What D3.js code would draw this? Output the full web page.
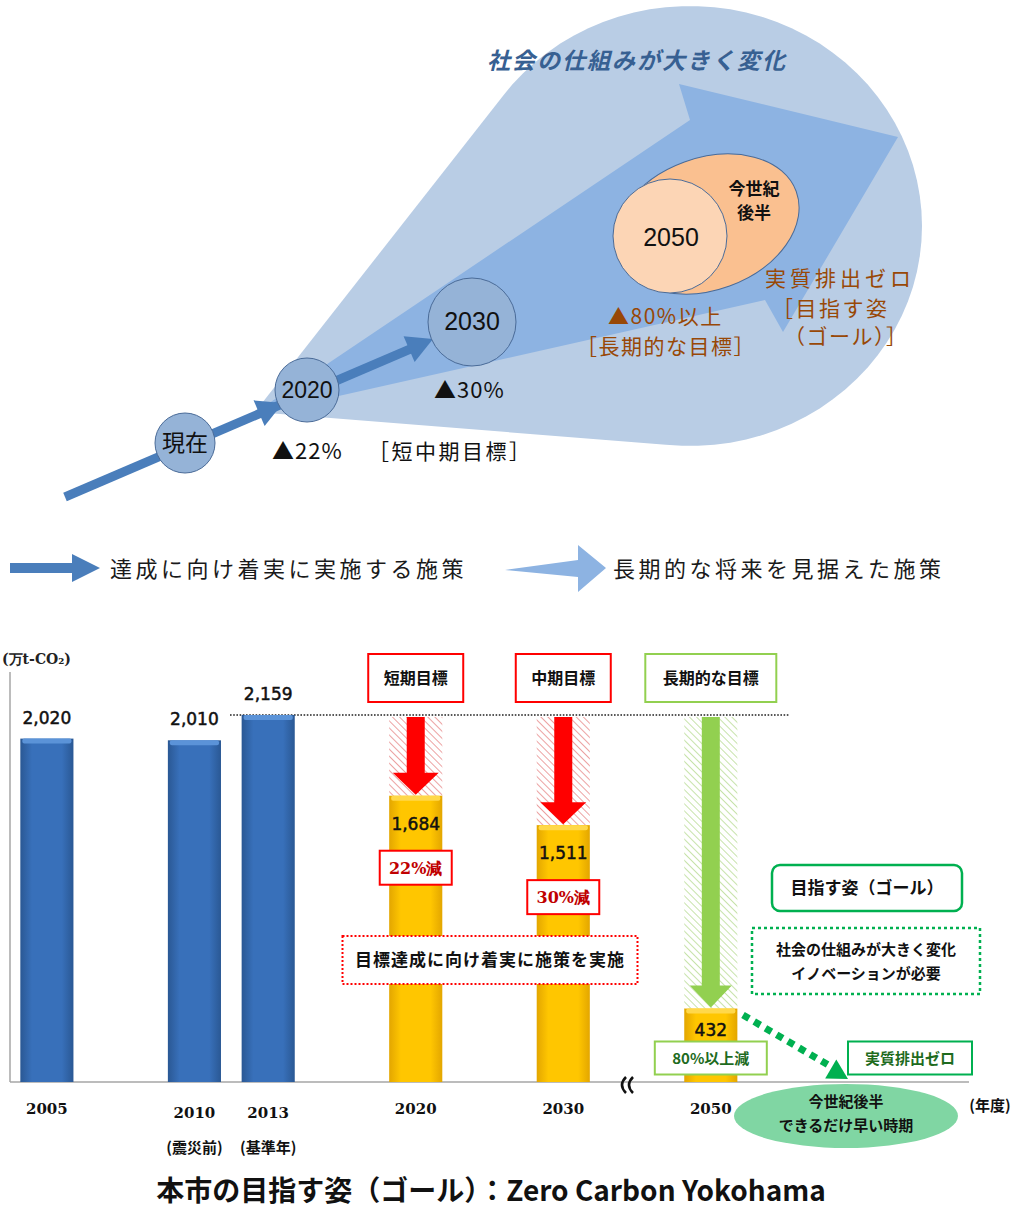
<!DOCTYPE html>
<html>
<head>
<meta charset="utf-8">
<script src="https://cdn.jsdelivr.net/npm/d3@7"></script>
<style>
  body { margin: 0; background: #fff; }
  svg { display: block; }
</style>
</head>
<body>
<svg id="svg" width="1020" height="1211"></svg>
<script>
//emissions chart data
const years = ["2005", "2010", "2013", "2020", "2030", "2050"];
const emissions = [2020, 2010, 2159, 1684, 1511, 432];
const baseYear = "2013";
const targetYears = ["2020", "2030", "2050"];
const targetNames = ["短期目標", "中期目標", "長期的な目標"];
const cutLabels = ["22%減", "30%減", "80%以上減"];
const noteYears = ["2010", "2013"];
const notes = ["(震災前)", "(基準年)"];

//roadmap diagram labels
const milestones = ["現在", "2020", "2030"];
const milestoneCuts = ["", "▲22%", "▲30%"];
const legendLabels = ["達成に向け着実に実施する施策", "長期的な将来を見据えた施策"];

const JP = "'Noto Sans CJK JP', sans-serif";
const svg = d3.select("#svg");

//---------- defs ----------
const defs = svg.append("defs");
function hGrad(id, edge, mid) {
    const g = defs.append("linearGradient").attr("id", id)
            .attr("x1", "0").attr("x2", "1").attr("y1", "0").attr("y2", "0");
    g.append("stop").attr("offset", "0%").attr("stop-color", edge);
    g.append("stop").attr("offset", "22%").attr("stop-color", mid);
    g.append("stop").attr("offset", "78%").attr("stop-color", mid);
    g.append("stop").attr("offset", "100%").attr("stop-color", edge);
}
hGrad("gBlue", "#2a5894", "#3870ba");
hGrad("gYellow", "#e3a600", "#ffc600");

function hatch(id, color) {
    defs.append("pattern").attr("id", id)
            .attr("width", 5).attr("height", 5)
            .attr("patternUnits", "userSpaceOnUse")
            .attr("patternTransform", "rotate(-45)")
            .append("line")
            .attr("x1", 0).attr("y1", 0).attr("x2", 0).attr("y2", 5)
            .attr("stroke", color).attr("stroke-width", 1.6);
}
hatch("hRed", "#e88a8a");
hatch("hGreen", "#b9dc94");

//---------- top diagram ----------
//light blue fan: hull of a round head and an apex
var headPts = d3.range(0, 360, 4).map(a => {
    var t = a * Math.PI / 180;
    return [690 + 232 * Math.cos(t), 226 + 220 * Math.sin(t)];
});
headPts.push([255, 412]);
var hull = d3.polygonHull(headPts);
svg.append("path")
        .attr("d", "M" + hull.join("L") + "Z")
        .attr("fill", "#b9cde5");

//medium blue big arrow
var bigArrow = [[250, 416], [690, 120], [679, 84], [898, 137], [783, 332], [765, 300]];
svg.append("polygon")
        .attr("points", bigArrow.map(p => p.join(",")).join(" "))
        .attr("fill", "#8db3e2");

svg.append("text")
        .attr("x", 487).attr("y", 69)
        .attr("font-family", JP).attr("font-size", 23)
        .attr("font-weight", "bold").attr("font-style", "italic")
        .attr("letter-spacing", 2)
        .attr("fill", "#376092")
        .text("社会の仕組みが大きく変化");

//thin blue progress arrow
const arrowBlue = "#4a7ebb";
svg.append("line")
        .attr("x1", 65).attr("y1", 497).attr("x2", 415).attr("y2", 347)
        .attr("stroke", arrowBlue).attr("stroke-width", 9);
function arrowHead(tipX, tipY, ang, len, wid, color) {
    var bx = tipX - len * Math.cos(ang), by = tipY - len * Math.sin(ang);
    var nx = -Math.sin(ang) * wid / 2, ny = Math.cos(ang) * wid / 2;
    svg.append("polygon")
            .attr("points", [[tipX, tipY], [bx + nx, by + ny], [bx - nx, by - ny]].map(p => p.join(",")).join(" "))
            .attr("fill", color);
}
var ang = Math.atan2(347 - 497, 415 - 65);
arrowHead(283, 403, ang, 26, 28, arrowBlue);
arrowHead(433, 339, ang, 26, 28, arrowBlue);

//milestone circles
var circ = [[185, 443, 30], [307, 390, 32], [472, 322, 44]];
svg.selectAll("circle.ms")
        .data(milestones)
        .enter()
        .append("circle")
        .attr("class", "ms")
        .attr("cx", (d, i) => circ[i][0])
        .attr("cy", (d, i) => circ[i][1])
        .attr("r", (d, i) => circ[i][2])
        .attr("fill", "#95b3d7")
        .attr("stroke", "#4a6b98").attr("stroke-width", 1);
svg.selectAll("text.ms")
        .data(milestones)
        .enter()
        .append("text")
        .attr("class", "ms")
        .attr("x", (d, i) => circ[i][0])
        .attr("y", (d, i) => circ[i][1] + 8)
        .attr("text-anchor", "middle")
        .attr("font-family", (d, i) => i === 0 ? JP : "'Liberation Sans Narrow', 'Liberation Sans', sans-serif")
        .attr("font-size", (d, i) => i === 2 ? 25 : 23)
        .attr("fill", "#111")
        .text(d => d);

//2050 orange shapes
svg.append("ellipse")
        .attr("cx", 0).attr("cy", 0).attr("rx", 95).attr("ry", 66)
        .attr("transform", "translate(707,224) rotate(-20)")
        .attr("fill", "#fac090").attr("stroke", "#4a6b98").attr("stroke-width", 1);
svg.append("circle")
        .attr("cx", 670).attr("cy", 236).attr("r", 57)
        .attr("fill", "#fcd5b5").attr("stroke", "#4a6b98").attr("stroke-width", 1);
svg.append("text")
        .attr("x", 671).attr("y", 246).attr("text-anchor", "middle")
        .attr("font-family", "'Liberation Sans Narrow', 'Liberation Sans', sans-serif")
        .attr("font-size", 25).attr("fill", "#111").text("2050");
svg.append("text").attr("x", 754).attr("y", 195).attr("text-anchor", "middle")
        .attr("font-family", JP).attr("font-size", 17).attr("font-weight", "bold")
        .attr("fill", "#111").text("今世紀");
svg.append("text").attr("x", 754).attr("y", 219).attr("text-anchor", "middle")
        .attr("font-family", JP).attr("font-size", 17).attr("font-weight", "bold")
        .attr("fill", "#111").text("後半");

//diagram captions
function caption(x, y, str, color, size, spacing) {
    svg.append("text")
            .attr("x", x).attr("y", y)
            .attr("font-family", JP).attr("font-size", size)
            .attr("letter-spacing", spacing)
            .attr("fill", color)
            .text(str);
}
caption(272, 459, milestoneCuts[1], "#111", 22, 1);
caption(434, 398, milestoneCuts[2], "#111", 22, 1);
caption(368, 459, "［短中期目標］", "#111", 21, 2.5);
const brown = "#984807";
caption(608, 324, "▲80%以上", brown, 21, 1.5);
caption(576, 354, "［長期的な目標］", brown, 21, 1.5);
caption(765, 286, "実質排出ゼロ", brown, 21, 4);
caption(772, 316, "［目指す姿", brown, 21, 2.5);
caption(784, 344, "（ゴール）］", brown, 21, 1.5);

//legend
svg.append("polygon")
        .attr("points", "10,563 72,563 72,554 100,568 72,582 72,573 10,573")
        .attr("fill", arrowBlue);
svg.append("polygon")
        .attr("points", "505,570 578,560 578,545 606,568 578,592 578,577")
        .attr("fill", "#8db3e2");
svg.selectAll("text.legend")
        .data(legendLabels)
        .enter()
        .append("text")
        .attr("class", "legend")
        .attr("x", (d, i) => i === 0 ? 110 : 613)
        .attr("y", 577)
        .attr("font-family", JP).attr("font-size", 22)
        .attr("letter-spacing", 3.5)
        .attr("fill", "#1a1a1a")
        .text(d => d);

//---------- emissions chart ----------
const slotOf = {"2005": 0, "2010": 2, "2013": 3, "2020": 5, "2030": 7, "2050": 9};
var scaleX = d3.scaleBand()
        .domain(d3.range(13))
        .range([10, 969])
        .paddingInner(0.28)
        .paddingOuter(0.14);
var scaleY = d3.scaleLinear()
        .domain([0, 2400])
        .range([1082, 674]);
var bw = scaleX.bandwidth();
var bx = y => scaleX(slotOf[y]);
var bc = y => scaleX(slotOf[y]) + bw / 2;

var data = years.map((y, i) => ({year: y, value: emissions[i], target: targetYears.indexOf(y)}));
var baseValue = emissions[years.indexOf(baseYear)];

//axes
svg.append("line")
        .attr("x1", 10).attr("x2", 10).attr("y1", scaleY(2400) - 2).attr("y2", scaleY(0))
        .attr("stroke", "#a6a6a6").attr("stroke-width", 1.5);
svg.append("line")
        .attr("x1", 10).attr("x2", 969).attr("y1", scaleY(0)).attr("y2", scaleY(0))
        .attr("stroke", "#a6a6a6").attr("stroke-width", 1.5);
svg.append("text")
        .attr("x", 2).attr("y", 664)
        .attr("font-family", "'DejaVu Serif', serif").attr("font-size", 14).attr("font-weight", "bold")
        .attr("fill", "#222")
        .text("(万t-CO₂)");

//base year dotted line
svg.append("line")
        .attr("x1", 230).attr("x2", 790)
        .attr("y1", scaleY(baseValue)).attr("y2", scaleY(baseValue))
        .attr("stroke", "#222").attr("stroke-width", 1.6)
        .attr("stroke-dasharray", "1.6 1.6");

var targets = data.filter(d => d.target >= 0);

//hatched reduction band + arrow
svg.selectAll("rect.hatch")
        .data(targets)
        .enter()
        .append("rect")
        .attr("class", "hatch")
        .attr("x", d => bx(d.year))
        .attr("y", scaleY(baseValue) + 2)
        .attr("width", bw)
        .attr("height", d => scaleY(d.value) - scaleY(baseValue) - 2)
        .attr("fill", d => d.target < 2 ? "url(#hRed)" : "url(#hGreen)");
svg.selectAll("polygon.cut")
        .data(targets)
        .enter()
        .append("polygon")
        .attr("class", "cut")
        .attr("points", d => {
            var c = bc(d.year), top = scaleY(baseValue) + 2, tip = scaleY(d.value) - 1;
            var hw = d.target < 2 ? 23 : 21, sw = 9, hl = 22;
            return [[c - sw, top], [c + sw, top], [c + sw, tip - hl], [c + hw, tip - hl], [c, tip],
                [c - hw, tip - hl], [c - sw, tip - hl]].map(p => p.join(",")).join(" ");
        })
        .attr("fill", d => d.target < 2 ? "#ff0000" : "#92d050");

//bars
svg.selectAll("rect.bar")
        .data(data)
        .enter()
        .append("rect")
        .attr("class", "bar")
        .attr("x", d => bx(d.year))
        .attr("y", d => scaleY(d.value))
        .attr("width", bw)
        .attr("height", d => scaleY(0) - scaleY(d.value))
        .attr("fill", d => d.target >= 0 ? "url(#gYellow)" : "url(#gBlue)");
svg.selectAll("rect.bevel")
        .data(data)
        .enter()
        .append("rect")
        .attr("class", "bevel")
        .attr("x", d => bx(d.year) + 2)
        .attr("y", d => scaleY(d.value))
        .attr("width", bw - 4)
        .attr("height", 5)
        .attr("rx", 2)
        .attr("fill", d => d.target >= 0 ? "#ffd84a" : "#5b93d8");

//value labels
svg.selectAll("text.val")
        .data(data)
        .enter()
        .append("text")
        .attr("class", "val")
        .attr("x", d => bc(d.year))
        .attr("y", d => d.target >= 0 ? scaleY(d.value) + (d.target === 2 ? 27 : 34) : scaleY(d.value) - 15)
        .attr("text-anchor", "middle")
        .attr("font-family", "'DejaVu Sans', sans-serif")
        .attr("font-size", 17)
        .attr("fill", "#111")
        .attr("stroke", "#111").attr("stroke-width", 0.5)
        .text(d => d3.format(",")(d.value));

//year labels
svg.selectAll("text.year")
        .data(data)
        .enter()
        .append("text")
        .attr("class", "year")
        .attr("x", d => bc(d.year))
        .attr("y", d => noteYears.indexOf(d.year) >= 0 ? 1118 : 1114)
        .attr("text-anchor", "middle")
        .attr("font-family", "'DejaVu Serif', serif")
        .attr("font-size", 15).attr("font-weight", "bold")
        .attr("fill", "#111")
        .text(d => d.year);
svg.selectAll("text.note")
        .data(noteYears)
        .enter()
        .append("text")
        .attr("class", "note")
        .attr("x", d => bc(d))
        .attr("y", 1153)
        .attr("text-anchor", "middle")
        .attr("font-family", JP).attr("font-size", 15).attr("font-weight", "bold")
        .attr("fill", "#111")
        .text((d, i) => notes[i]);
svg.append("text")
        .attr("x", 990).attr("y", 1111).attr("text-anchor", "middle")
        .attr("font-family", JP).attr("font-size", 15).attr("font-weight", "bold")
        .attr("fill", "#111").text("(年度)");

//axis break mark
[0, 7].forEach(dx => {
    svg.append("path")
            .attr("d", `M${626 + dx},1077 Q${618 + dx},1085 ${626 + dx},1093`)
            .attr("fill", "none").attr("stroke", "#111").attr("stroke-width", 2.5);
});

//boxes
function box(cx, cy, w, h, stroke, opts) {
    var o = opts || {};
    svg.append("rect")
            .attr("x", cx - w / 2).attr("y", cy - h / 2)
            .attr("width", w).attr("height", h)
            .attr("rx", o.rx || 0)
            .attr("fill", "#fff")
            .attr("stroke", stroke).attr("stroke-width", o.sw || 2)
            .attr("stroke-dasharray", o.dash || null);
    (o.lines || []).forEach((t, i, arr) => {
        svg.append("text")
                .attr("x", cx).attr("y", cy + 6 + (i - (arr.length - 1) / 2) * 24)
                .attr("text-anchor", "middle")
                .attr("font-family", o.font || JP).attr("font-size", o.size || 16)
                .attr("font-weight", "bold")
                .attr("letter-spacing", o.ls || 0)
                .attr("fill", o.color || "#111")
                .text(t);
    });
}
targets.forEach(d => {
    var c = bc(d.year);
    var w = d.target === 2 ? 131 : 95;
    box(c, 678, w, 48, d.target === 2 ? "#92d050" : "#ff0000", {lines: [targetNames[d.target]], size: 16});
    if (d.target < 2) {
        box(c, scaleY(d.value) + 72, 72, 34, "#ff0000",
                {lines: [cutLabels[d.target]], color: "#c00000", size: 16, font: "'DejaVu Serif', serif"});
    } else {
        box(c, 1058, 112, 33, "#92d050", {lines: [cutLabels[d.target]], color: "#1e6b1e", size: 15});
    }
});
box(490, 960, 295, 48, "#ff0000", {lines: ["目標達成に向け着実に施策を実施"], size: 17, dash: "2 2", ls: 1});
box(867, 888, 190, 46, "#00b050", {lines: ["目指す姿（ゴール）"], size: 17, rx: 8, sw: 2.5});
box(866, 961, 228, 66, "#00b050", {lines: ["社会の仕組みが大きく変化", "イノベーションが必要"], size: 15, dash: "3 3", sw: 2.5});
box(910, 1058, 124, 33, "#00b050", {lines: ["実質排出ゼロ"], color: "#1e6b1e", size: 15});

//green dotted arrow
svg.append("line")
        .attr("x1", 743).attr("y1", 1015).attr("x2", 830).attr("y2", 1066)
        .attr("stroke", "#00b050").attr("stroke-width", 7)
        .attr("stroke-dasharray", "7 6");
arrowHead(848, 1079, Math.atan2(1066 - 1015, 830 - 743), 20, 22, "#00b050");

//goal ellipse
svg.append("ellipse")
        .attr("cx", 846).attr("cy", 1116).attr("rx", 112).attr("ry", 32)
        .attr("fill", "#80d6a3");
["今世紀後半", "できるだけ早い時期"].forEach((t, i) => {
    svg.append("text")
            .attr("x", 846).attr("y", 1107 + i * 24).attr("text-anchor", "middle")
            .attr("font-family", JP).attr("font-size", 15).attr("font-weight", "bold")
            .attr("fill", "#111").text(t);
});

//title
svg.append("text")
        .attr("x", 491).attr("y", 1201).attr("text-anchor", "middle")
        .attr("font-family", JP).attr("font-size", 28).attr("font-weight", "bold")
        .attr("fill", "#111")
        .text("本市の目指す姿（ゴール）：Zero Carbon Yokohama");
</script>
</body>
</html>
